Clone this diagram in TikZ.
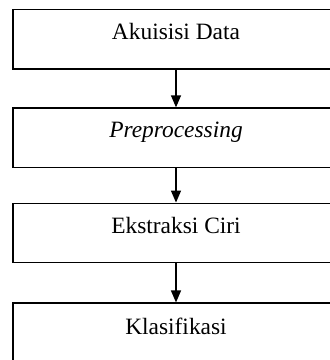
\documentclass[tikz,border=0pt]{standalone}
\usepackage{fontspec}
\setmainfont{Liberation Serif}
\usepackage{tikz}
\usetikzlibrary{arrows.meta,positioning}
\tikzset{
    stage/.style={draw, rectangle, line width=0.65pt, minimum width=163pt, minimum height=29.8pt, text height=6pt, text depth=6pt, font=\fontsize{11.7}{14}\selectfont},
    flow/.style={-{Triangle[length=6pt, width=5pt]}, line width=0.65pt}
}
\begin{document}
\begin{tikzpicture}
                \useasboundingbox (0,0) rectangle (164.5pt,-180pt);
                \node[stage] (akuisisi) at (88pt,-19.6pt) {Akuisisi Data};
                \node[stage, below=18.85pt of akuisisi] (prepro) {\textit{Preprocessing}};
                \node[stage, below=17.15pt of prepro] (ekstraksi) {Ekstraksi Ciri};
                \node[stage, below=19.5pt of ekstraksi, minimum height=31pt] (klasifikasi) {Klasifikasi};
                \draw[flow] (akuisisi) -- (prepro);
                \draw[flow] (prepro) -- (ekstraksi);
                \draw[flow] (ekstraksi) -- (klasifikasi);
            \end{tikzpicture}
\end{document}
